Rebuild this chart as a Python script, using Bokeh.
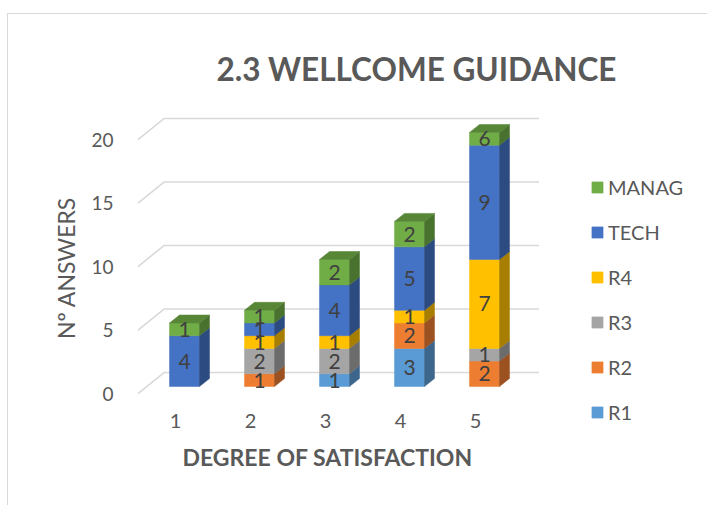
from bokeh.plotting import figure
from bokeh.models import ColumnDataSource, FixedTicker, Legend, LegendItem, Range1d, Title
from bokeh.embed import file_html
from bokeh.resources import INLINE
from bokeh.core.properties import value

# ---------------- data ----------------
categories = [1, 2, 3, 4, 5]
x_tick_labels = {1: "1", 2: "2", 3: "3", 4: "4", 5: "5"}
series = ["R1", "R2", "R3", "R4", "TECH", "MANAG"]
R1 = [0, 0, 1, 3, 0]
R2 = [0, 1, 0, 2, 2]
R3 = [0, 2, 2, 0, 1]
R4 = [0, 1, 1, 1, 7]
TECH = [4, 1, 4, 5, 9]
MANAG = [1, 1, 2, 2, 6]
y_ticks = [0, 5, 10, 15, 20]
chart_title = "2.3 WELLCOME GUIDANCE"
x_title = "DEGREE OF SATISFACTION"
y_title = "Nº ANSWERS"

values = {"R1": R1, "R2": R2, "R3": R3, "R4": R4, "TECH": TECH, "MANAG": MANAG}
colors = {"R1": "#5B9BD5", "R2": "#ED7D31", "R3": "#A5A5A5",
          "R4": "#FFC000", "TECH": "#4472C4", "MANAG": "#70AD47"}

# ---------------- layout / 3D styling ----------------
FONT = "Lato"
W, H = 700, 492
ML, MR, MT, MB = 125, 0, 91, 76
frame_w, frame_h = W - ML - MR, H - MT - MB
SX, SY = 75.0, 12.7          # px per category / px per answer
X0, Y0 = 0.44, -2.913
PX = 1.0 / SX
PY = 1.0 / SY
DXF, DYF = 9 * PX, 7 * PY     # front plane -> bar front face
DXD, DYD = 10 * PX, 8 * PY    # bar depth
DXB, DYB = 26 * PX, 21 * PY   # front plane -> back wall
HW = 15 * PX                  # half width of a bar face
ymax = y_ticks[-1]


def shade(c, f):
    r, g, b = int(c[1:3], 16), int(c[3:5], 16), int(c[5:7], 16)
    return "#%02x%02x%02x" % (int(r * f), int(g * f), int(b * f))


p = figure(width=W, height=H, output_backend="svg", toolbar_location=None,
           x_range=Range1d(X0, X0 + frame_w * PX), y_range=Range1d(Y0, Y0 + frame_h * PY),
           min_border_left=ML, min_border_right=MR, min_border_top=MT, min_border_bottom=MB)
p.styles = {"margin-left": "7px", "margin-top": "13px",
            "border-top": "1px solid #d9d9d9", "border-left": "1px solid #d9d9d9"}
p.outline_line_color = None
p.xgrid.visible = False
p.ygrid.visible = False
p.background_fill_color = "white"
p.border_fill_color = "white"

# title
p.title.text = chart_title
p.title.align = "left"
p.title.offset = 83
p.title.text_font = FONT
p.title.text_font_size = "31.5px"
p.title.text_font_style = "bold"
p.title.text_color = "#595959"
p.title.standoff = 35

# axes
for ax in (p.xaxis[0], p.yaxis[0]):
    ax.axis_line_color = None
    ax.major_tick_line_color = None
    ax.minor_tick_line_color = None
    ax.major_label_text_font = FONT
    ax.major_label_text_color = "#595959"
    ax.axis_label_text_font = FONT
    ax.axis_label_text_color = "#595959"

p.yaxis.ticker = FixedTicker(ticks=y_ticks)
p.yaxis.bounds = (y_ticks[0], y_ticks[-1])
p.yaxis.major_label_text_font_size = "19px"
p.yaxis.major_label_standoff = 14
p.yaxis.axis_label = y_title
p.yaxis.axis_label_text_font_size = "23px"
p.yaxis.axis_label_text_font_style = "normal"
p.yaxis.axis_label_standoff = 8

p.xaxis.ticker = FixedTicker(ticks=categories)
p.xaxis.major_label_overrides = x_tick_labels
p.xaxis.major_label_text_font_size = "20px"
p.xaxis.major_label_standoff = -23

xt = Title(text=x_title, align="left", offset=49, standoff=25, vertical_align="top",
           text_font=FONT, text_font_size="23px", text_font_style="bold",
           text_color="#595959")
p.add_layout(xt, "below")

# 3D gridlines (left wall diagonal + back wall)
xl = categories[0] - 0.5
xr = categories[-1] + 0.5 + DXB
g_xs, g_ys = [], []
for v in y_ticks:
    g_xs.append([xl, xl + DXB, xr])
    g_ys.append([v, v + DYB, v + DYB])
p.multi_line(g_xs, g_ys, line_color="#d9d9d9", line_width=1.6)

# bars
fronts = {s: dict(left=[], right=[], bottom=[], top=[]) for s in series}
side_xs, side_ys, side_c = [], [], []
top_xs, top_ys, top_c = [], [], []
lab_x, lab_y, lab_t = [], [], []
for i, c in enumerate(categories):
    base = 0
    last = None
    for s in series:
        v = values[s][i]
        if v <= 0:
            continue
        b = base
        t = min(base + v, ymax)
        base += v
        if b >= ymax:
            continue
        l, r = c + DXF - HW, c + DXF + HW
        f = fronts[s]
        f["left"].append(l); f["right"].append(r)
        f["bottom"].append(b + DYF); f["top"].append(t + DYF)
        side_xs.append([r, r + DXD, r + DXD, r])
        side_ys.append([b + DYF, b + DYF + DYD, t + DYF + DYD, t + DYF])
        side_c.append(shade(colors[s], 0.66))
        lab_x.append(c + DXF); lab_y.append((b + t) / 2 + DYF); lab_t.append(str(v))
        last = (l, r, t, s)
    if last:
        l, r, t, s = last
        top_xs.append([l, r, r + DXD, l + DXD])
        top_ys.append([t + DYF, t + DYF, t + DYF + DYD, t + DYF + DYD])
        top_c.append(shade(colors[s], 0.78))

renderers = {}
for s in series:
    src = ColumnDataSource(fronts[s])
    renderers[s] = p.quad(left="left", right="right", bottom="bottom", top="top", source=src,
                          fill_color=colors[s], line_color=colors[s], line_width=0.5)

p.patches(side_xs, side_ys, fill_color=side_c, line_color=side_c, line_width=0.5)
p.patches(top_xs, top_ys, fill_color=top_c, line_color=top_c, line_width=0.5)

p.text(x=lab_x, y=lab_y, text=lab_t, text_align="center", text_baseline="middle",
       text_font=value(FONT), text_font_size="21px", text_color="#404040")

legend = Legend(items=[LegendItem(label=s, renderers=[renderers[s]]) for s in reversed(series)],
                location=(457, 6))
legend.label_text_font = FONT
legend.label_text_font_size = "20px"
legend.label_text_color = "#595959"
legend.glyph_width = 14
legend.glyph_height = 14
legend.label_height = 24
legend.spacing = 21
legend.padding = 0
legend.margin = 0
legend.label_standoff = 4
legend.border_line_color = None
legend.background_fill_alpha = 0
p.add_layout(legend)

open("out.html", "w").write(file_html(p, INLINE))
